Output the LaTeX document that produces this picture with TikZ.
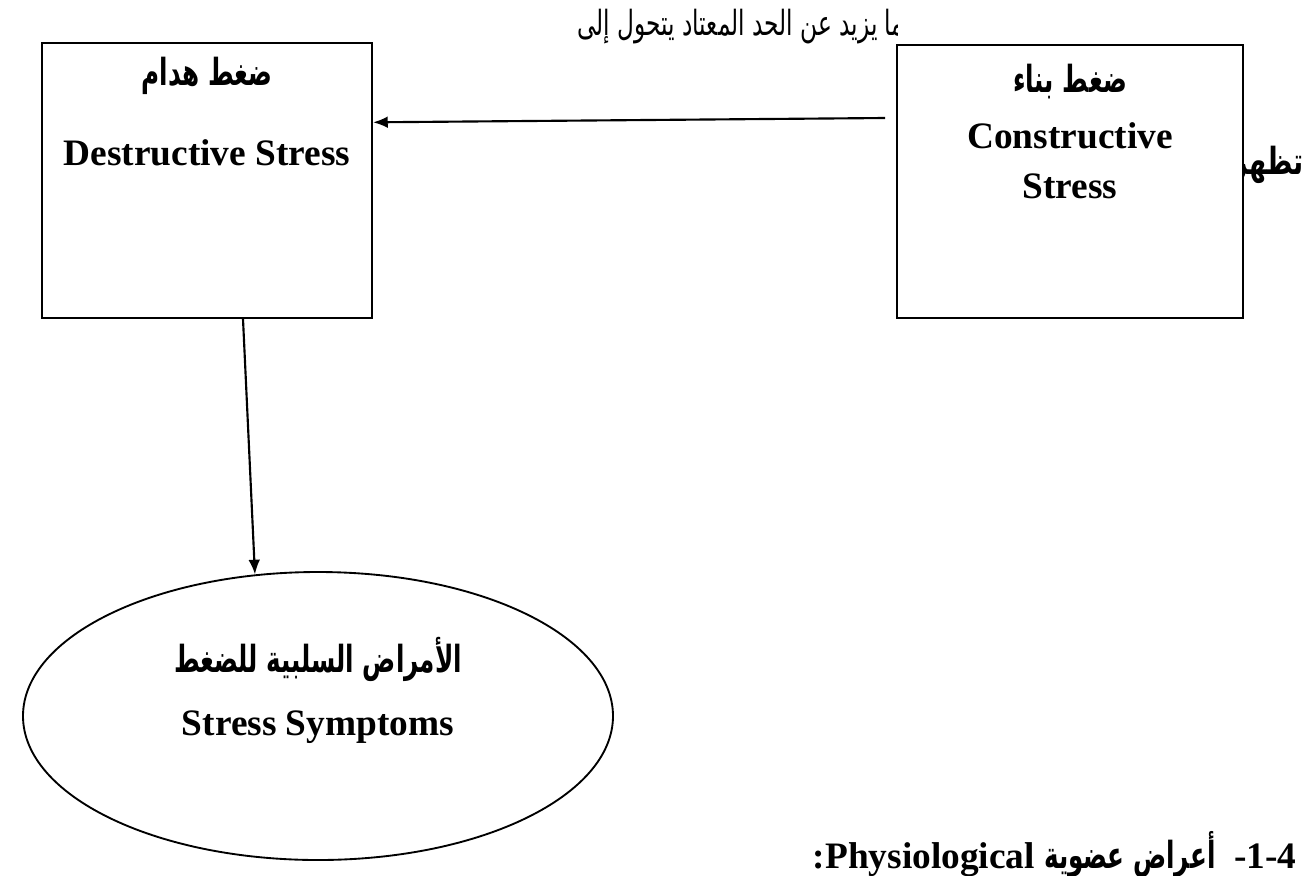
\documentclass[tikz,border=0pt]{standalone}
\usepackage{graphicx}
\usepackage{fontspec}
\setmainfont{Liberation Serif}
\newfontfamily\arabicfont[Script=Arabic]{DejaVu Sans}
\TeXXeTstate=1
\newcommand{\arsq}[2]{\scalebox{#1}[1]{#2}}
\usetikzlibrary{arrows.meta,shapes.geometric,calc}
\begin{document}
\begin{tikzpicture}[x=0.375pt,y=-0.375pt,
  box/.style={draw,line width=0.8pt,fill=white,rectangle,inner sep=0pt},
  conn/.style={line width=0.8pt,-{Latex[length=5.5pt,width=4.4pt]}},
  entxt/.style={inner sep=0pt,font=\fontsize{14}{17}\selectfont\bfseries},
  artxt/.style={inner sep=0pt,font=\fontsize{14}{17}\selectfont\arabicfont\bfseries},
  arreg/.style={inner sep=0pt,font=\fontsize{13}{16}\selectfont\arabicfont}]
\useasboundingbox (0,0) rectangle (1309,875);
% texts cut off at the boxes
\begin{scope}
  \clip (0,0) rectangle (897,46);
  \node[arreg,anchor=west] (top) at (577,27) {\arsq{0.67}{\beginR عندما يزيد عن الحد المعتاد يتحول إلى\endR}};
\end{scope}
\node[artxt,anchor=east] (appear) at (1304,165) {\arsq{0.72}{\beginR تظهر\endR}};
% boxes
\node[box,minimum width=123.75pt,minimum height=103.1pt] (lbox) at (207,180.5) {};
\node[box,minimum width=129.75pt,minimum height=102.4pt] (rbox) at (1070,181.5) {};
\node[draw,ellipse,line width=0.7pt,inner sep=0pt,minimum width=221.25pt,minimum height=108pt] (ell) at (318,716) {};
% box texts
\node[artxt] (l1) at (207,76) {\arsq{0.66}{\beginR ضغط هدام\endR}};
\node[entxt] (l2) at (207,153) {Destructive Stress};
\node[artxt] (r1) at (1070,82) {\arsq{0.66}{\beginR ضغط بناء\endR}};
\node[entxt] (r2) at (1070,136) {Constructive};
\node[entxt] (r3) at (1070,186) {Stress};
\node[artxt] (e1) at (318,659) {\arsq{0.66}{\beginR الأمراض السلبية للضغط\endR}};
\node[entxt] (e2) at (318,727) {Stress Symptoms};
% bottom heading
\node[entxt,anchor=east] (head) at (1297,855) {:Physiological {\arabicfont\bfseries\arsq{0.66}{\beginR أعراض عضوية\endR}}\hspace{7pt}-1-4};
% connectors
\coordinate (a1s) at (885,118);
\draw[conn] (a1s) -- ($(lbox.north east)!0.29!(lbox.south east)$);
\draw[conn] ($(lbox.south)+(36,0)$) -- (ell.114.8);
\end{tikzpicture}
\end{document}
